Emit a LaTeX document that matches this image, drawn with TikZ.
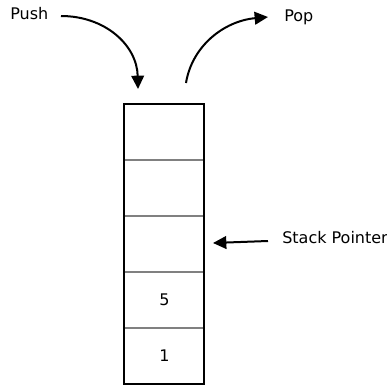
\documentclass[tikz,border=0pt]{standalone}
\usepackage{fontspec}
\setmainfont{DejaVu Sans}
\usepackage{tikz}
\usetikzlibrary{arrows.meta,positioning}
\definecolor{stkInk}{HTML}{000000}
\definecolor{stkLine}{HTML}{808080}
\tikzset{
    cell/.style={draw=stkLine, line width=1.1pt, minimum width=60pt, minimum height=42pt, inner sep=0pt, outer sep=0pt, text=stkInk},
    label/.style={anchor=west, inner sep=0pt, text=stkInk},
    stackarrow/.style={-{Triangle[length=10pt, width=9.5pt]}, line width=1.5pt, draw=stkInk}
}
\begin{document}
\begin{tikzpicture}[x=0.75pt, y=-0.75pt, font=\fontsize{12}{14}\selectfont]
\useasboundingbox (0,0) rectangle (387,386);
% stack cells, top to bottom
\node[cell] (top) at (164.5,132) {};
\node[cell, below=0pt of top] (free2) {};
\node[cell, below=0pt of free2] (free1) {};
\node[cell, below=0pt of free1] (val5) {\raisebox{-2pt}{5}};
\node[cell, below=0pt of val5] (val1) {\raisebox{-1pt}{1}};
\draw[stkInk, line width=1.5pt] (top.north west) rectangle (val1.south east);
% labels
\node[label] (push) at (10,14) {Push};
\node[label] (pop) at (284,17) {Pop};
\node[label] (sp) at (282,238) {Stack Pointer};
\coordinate (pushout) at (61,16);
\coordinate (pushin) at (138,89);
\coordinate (popout) at (186,83);
\coordinate (popin) at (268,17);
\coordinate (spfrom) at (268,241);
\coordinate (spto) at (213,243);
% arrows
\draw[stackarrow] (pushout) .. controls (105,16) and (137,45) .. (pushin);
\draw[stackarrow] (popout) .. controls (192,46) and (224,21) .. (popin);
\draw[stackarrow] (spfrom) -- (spto);
\end{tikzpicture}
\end{document}
